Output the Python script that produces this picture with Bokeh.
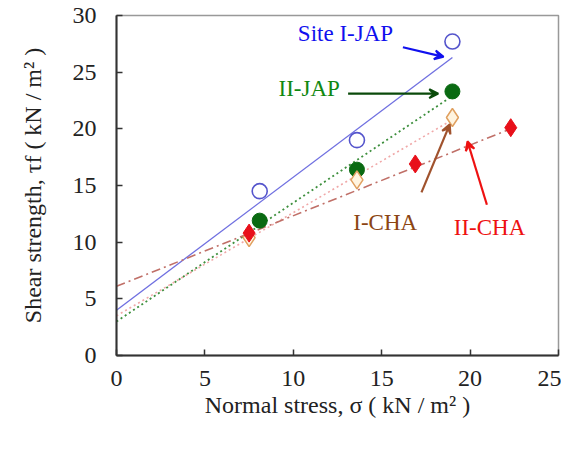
from bokeh.plotting import figure
from bokeh.models import Range1d, FixedTicker, Label, Arrow, VeeHead
from bokeh.embed import file_html
from bokeh.resources import INLINE

# Data
ija_x = [8.1, 13.6, 19.0]
ija_y = [14.5, 19.0, 27.7]
iija_x = [8.1, 13.6, 19.0]
iija_y = [11.9, 16.4, 23.3]
icha_x = [7.5, 13.6, 19.0]
icha_y = [10.4, 15.5, 21.0]
iicha_x = [7.5, 16.9, 22.3]
iicha_y = [10.8, 16.9, 20.1]

# fitted lines (endpoints)
ija_fit_x = [0, 19.0]
ija_fit_y = [4.0, 26.3]
iija_fit_x = [0, 19.0]
iija_fit_y = [3.0, 22.9]
icha_fit_x = [0, 19.0]
icha_fit_y = [3.5, 20.8]
iicha_fit_x = [0, 22.3]
iicha_fit_y = [6.1, 20.0]

x_ticks = [0, 5, 10, 15, 20, 25]
y_ticks = [0, 5, 10, 15, 20, 25, 30]

SERIF = "Liberation Serif"

p = figure(width=561, height=437, output_backend="svg", toolbar_location=None,
           x_range=Range1d(0, 25), y_range=Range1d(0, 30),
           min_border_left=116, min_border_right=3, min_border_top=15, min_border_bottom=82)
p.grid.visible = False
p.outline_line_color = "#999999"
p.outline_line_width = 1.5

for ax in (p.xaxis[0], p.yaxis[0]):
    ax.axis_line_color = "#333333"
    ax.axis_line_width = 2
    ax.major_tick_in = 6
    ax.major_tick_out = 0
    ax.minor_tick_line_color = None
    ax.major_tick_line_color = "#333333"
    ax.major_tick_line_width = 1.5
    ax.major_label_text_font = SERIF
    ax.major_label_text_font_size = "24px"
    ax.major_label_text_color = "#222222"
    ax.axis_label_text_font = SERIF
    ax.axis_label_text_font_size = "24px"
    ax.axis_label_text_font_style = "normal"
    ax.axis_label_text_color = "#222222"

p.xaxis.ticker = FixedTicker(ticks=x_ticks)
p.yaxis.ticker = FixedTicker(ticks=y_ticks)
p.xaxis.major_label_standoff = 15
p.yaxis.major_label_standoff = 20
p.xaxis.axis_label = "Normal stress, σ ( kN / m² )"
p.yaxis.axis_label = "Shear strength, τf ( kN / m² )"
p.xaxis.axis_label_standoff = 3
p.yaxis.axis_label_standoff = 24

# fit lines
p.line(ija_fit_x, ija_fit_y, line_color="#6f6fe0", line_width=1.3)
p.line(iija_fit_x, iija_fit_y, line_color="#3d8f3d", line_width=1.8, line_dash="2 3")
p.line(icha_fit_x, icha_fit_y, line_color="#f0a8a8", line_width=1.6, line_dash="2 3")
p.line(iicha_fit_x, iicha_fit_y, line_color="#c07068", line_width=1.6, line_dash="9 4 2 4")

# markers
p.scatter(ija_x, ija_y, marker="circle", size=15, fill_color=None,
          line_color="#5555cc", line_width=1.6)
p.scatter(iija_x, iija_y, marker="circle", size=15, fill_color="#0a6a12",
          line_color="#0a6a12")
p.scatter(icha_x, icha_y, marker="diamond", size=18, fill_color="#fff4e0",
          line_color="#e0a060", line_width=1.5)
p.scatter(iicha_x, iicha_y, marker="diamond", size=18, fill_color="#e8101a",
          line_color="#e8101a")

# annotations
def lab(x, y, t, c):
    p.add_layout(Label(x=x, y=y, text=t, text_color=c, text_font=SERIF,
                       text_font_size="23px", text_align="center",
                       text_baseline="middle"))

def arr(x0, y0, x1, y1, c):
    p.add_layout(Arrow(x_start=x0, y_start=y0, x_end=x1, y_end=y1,
                       line_color=c, line_width=2.2,
                       end=VeeHead(size=9, line_color=c, fill_color=c, line_width=2)))

lab(12.95, 28.4, "Site I-JAP", "#1010ee")
arr(16.2, 27.2, 18.5, 26.35, "#1010ee")
lab(10.9, 23.6, "II-JAP", "#118811")
arr(13.1, 23.1, 18.2, 23.1, "#0a4a0a")
lab(15.2, 11.75, "I-CHA", "#8b4513")
arr(17.25, 14.4, 18.85, 20.4, "#a0522d")
lab(21.1, 11.3, "II-CHA", "#ee1111")
arr(20.95, 13.3, 19.85, 18.9, "#ee1111")

open("out.html", "w").write(file_html(p, INLINE))
